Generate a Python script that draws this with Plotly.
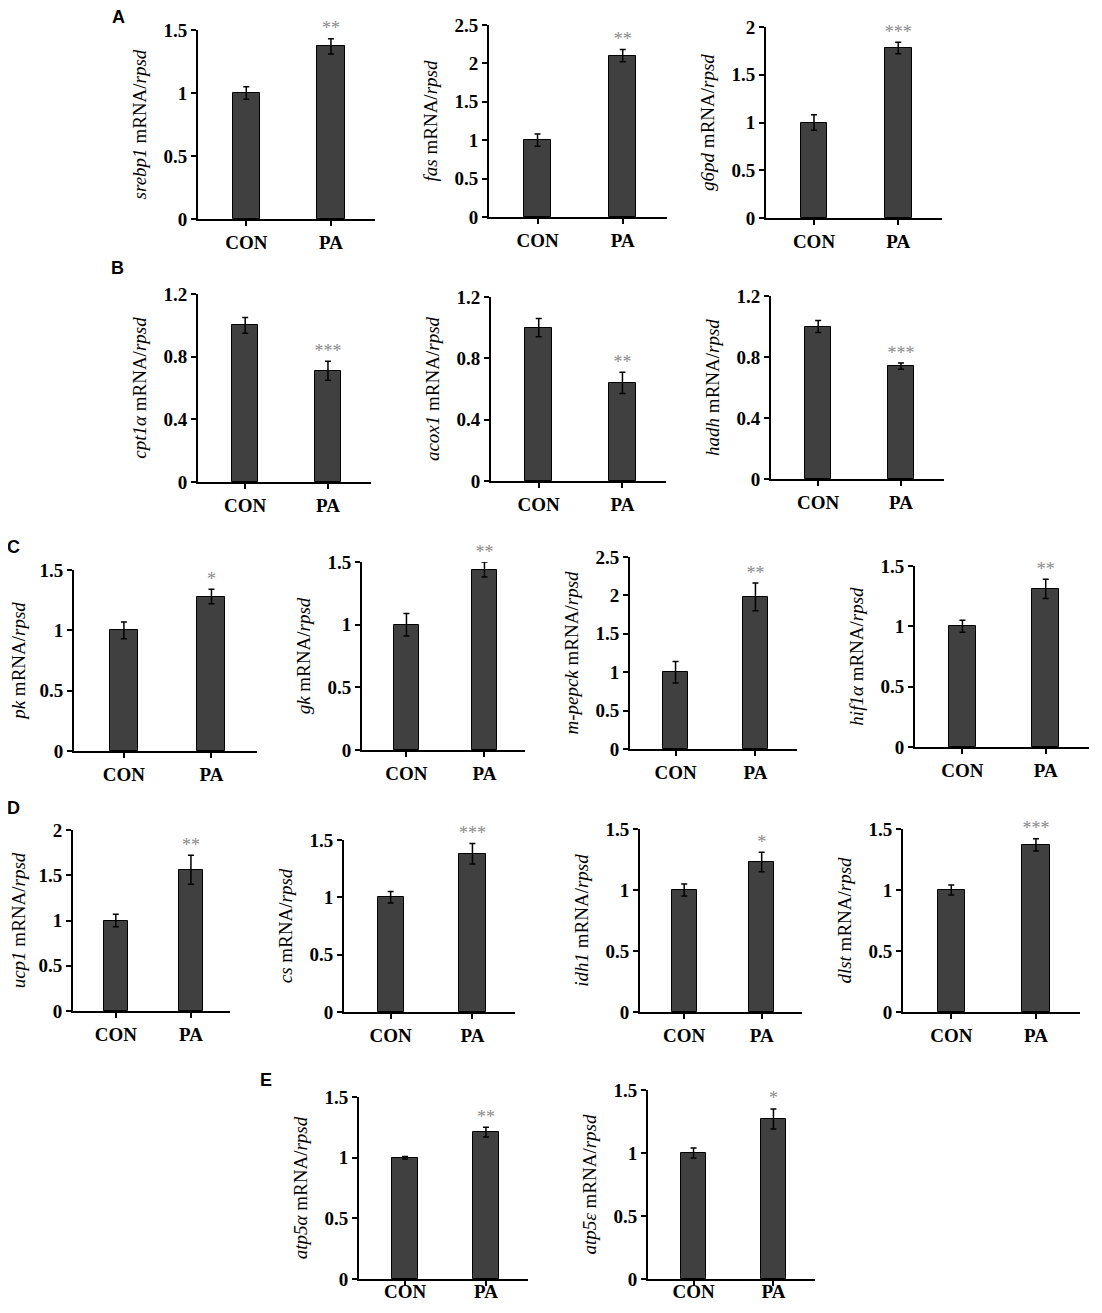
"""
Relative mRNA expression, CON vs PA — 16 small bar panels (A-E).
"""

import plotly.graph_objects as go


# ---------------------------------------------------------------------------
# Data
# ---------------------------------------------------------------------------

GROUPS = ['CON', 'PA']

GENES = ['srebp1', 'fas', 'g6pd',
         'cpt1α', 'acox1', 'hadh',
         'pk', 'gk', 'm-pepck', 'hif1α',
         'ucp1', 'cs', 'idh1', 'dlst',
         'atp5α', 'atp5ε']

CON_MEAN = [1.0, 1.0, 1.0,
            1.0, 1.0, 1.0,
            1.0, 1.0, 1.0, 1.0,
            1.0, 1.0, 1.0, 1.0,
            1.0, 1.0]
CON_ERR = [0.05, 0.08, 0.08,
           0.05, 0.06, 0.04,
           0.07, 0.09, 0.14, 0.05,
           0.07, 0.05, 0.05, 0.04,
           0.01, 0.04]

PA_MEAN = [1.37, 2.10, 1.78,
           0.71, 0.64, 0.74,
           1.28, 1.44, 1.98, 1.31,
           1.56, 1.38, 1.23, 1.37,
           1.21, 1.27]
PA_ERR = [0.06, 0.08, 0.06,
          0.06, 0.07, 0.02,
          0.06, 0.06, 0.18, 0.08,
          0.16, 0.09, 0.08, 0.05,
          0.04, 0.08]

SIG = ['**', '**', '***',
       '***', '**', '***',
       '*', '**', '**', '**',
       '**', '***', '*', '***',
       '**', '*']

Y_MAX = [1.5, 2.5, 2.0,
         1.2, 1.2, 1.2,
         1.5, 1.5, 2.5, 1.5,
         2.0, 1.5, 1.5, 1.5,
         1.5, 1.5]
Y_STEP = [0.5, 0.5, 0.5,
          0.4, 0.4, 0.4,
          0.5, 0.5, 0.5, 0.5,
          0.5, 0.5, 0.5, 0.5,
          0.5, 0.5]

PANEL_LETTERS = ['A', 'B', 'C', 'D', 'E']


# ---------------------------------------------------------------------------
# Layout geometry: pixel boxes of each plot area in the 1102x1313 page
# (x_left, x_right, y_zero, y_top). The page body has an 8px margin, so the
# figure itself is 16px smaller and every position is shifted by 8px.
# ---------------------------------------------------------------------------

PAGE_W, PAGE_H, BODY = 1102, 1313, 8
W, H = PAGE_W - 2 * BODY, PAGE_H - 2 * BODY
BOXES = [
    (198, 375, 219, 30), (489, 667, 217, 25), (766, 942, 218, 27),
    (198, 371, 482, 294), (491, 666, 481, 297), (771, 944, 479, 296),
    (74, 257, 751, 570), (362, 525, 750, 562), (630, 797, 749, 557), (915, 1089, 747, 566),
    (73, 230, 1011, 830), (344, 515, 1012, 840), (640, 802, 1012, 829), (903, 1080, 1012, 829),
    (359, 528, 1279, 1097), (648, 815, 1279, 1090),
]
# bottom row sits at the page edge: pull its category labels up a little
XLABEL_STANDOFF = {14: -11, 15: -11}
LETTER_POS = [(118, 17), (117, 268), (13, 547), (13, 808), (266, 1080)]

SERIF = 'Liberation Serif, Times New Roman, serif'
SANS = 'Liberation Sans, Arial, sans-serif'
BAR_COLOR = '#404040'
STAR_COLOR = '#8a8a8a'


def px_x(p):
    return (p - BODY) / W


def px_y(p):
    return 1 - (p - BODY) / H


fig = go.Figure()
layout = {}

for i, gene in enumerate(GENES):
    n = '' if i == 0 else str(i + 1)
    xa, ya = 'x' + n, 'y' + n
    means = [CON_MEAN[i], PA_MEAN[i]]
    errs = [CON_ERR[i], PA_ERR[i]]

    fig.add_trace(go.Bar(
        x=GROUPS, y=means,
        width=0.32,
        marker=dict(color=BAR_COLOR, line=dict(color='black', width=1)),
        error_y=dict(type='data', array=errs, color='black', thickness=1.5, width=3),
        xaxis=xa, yaxis=ya,
        showlegend=False,
    ))
    # significance stars above the PA error bar
    fig.add_trace(go.Scatter(
        x=[GROUPS[1]], y=[PA_MEAN[i] + PA_ERR[i]],
        mode='text', text=[SIG[i]], textposition='top center',
        textfont=dict(family=SERIF, size=18, color=STAR_COLOR),
        cliponaxis=False,
        xaxis=xa, yaxis=ya,
        showlegend=False, hoverinfo='skip',
    ))

    xl, xr, y0, yt = BOXES[i]
    layout['xaxis' + n] = dict(
        domain=[px_x(xl), px_x(xr)],
        anchor=ya,
        type='category',
        range=[-0.57, 1.52],
        automargin=False,
        showline=True, linecolor='black', linewidth=2,
        ticks='outside', ticklen=5, tickwidth=1.5, tickcolor='black',
        ticklabelstandoff=XLABEL_STANDOFF.get(i, 0),
        tickfont=dict(family=SERIF, size=19, color='black', weight='bold'),
        showgrid=False, zeroline=False, fixedrange=True,
    )
    layout['yaxis' + n] = dict(
        domain=[px_y(y0), px_y(yt)],
        anchor=xa,
        range=[0, Y_MAX[i]],
        dtick=Y_STEP[i], tick0=0,
        automargin=False,
        showline=True, linecolor='black', linewidth=2,
        ticks='outside', ticklen=5, tickwidth=1.5, tickcolor='black',
        tickfont=dict(family=SERIF, size=19, color='black', weight='bold'),
        showgrid=False, zeroline=False, fixedrange=True,
        title=dict(
            text=f'<i>{gene}</i> mRNA/<i>rpsd</i>',
            font=dict(family=SERIF, size=19, color='black'),
            standoff=12,
        ),
    )

annotations = []
for letter, (lx, ly) in zip(PANEL_LETTERS, LETTER_POS):
    annotations.append(dict(
        x=px_x(lx), y=px_y(ly), xref='paper', yref='paper',
        text=f'<b>{letter}</b>', showarrow=False,
        xanchor='center', yanchor='middle',
        font=dict(family=SANS, size=18, color='black'),
    ))

fig.update_layout(
    **layout,
    annotations=annotations,
    width=W, height=H,
    margin=dict(l=0, r=0, t=0, b=0),
    plot_bgcolor='white', paper_bgcolor='white',
    bargap=0.0,
)

fig.write_html('out.html')
